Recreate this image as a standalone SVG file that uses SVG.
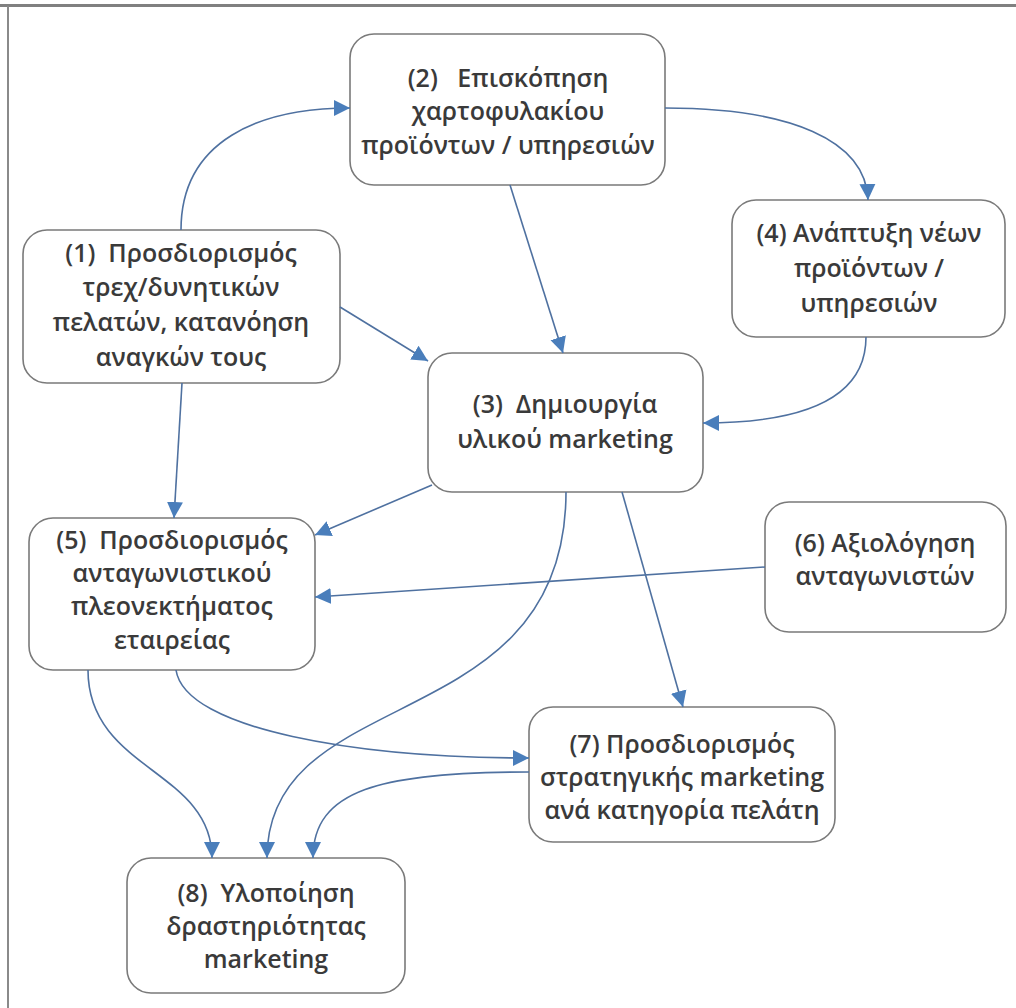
<svg xmlns="http://www.w3.org/2000/svg" width="1016" height="1008" viewBox="0 0 1016 1008">
  <style>
    .box { fill: #ffffff; stroke: #7a7a7a; stroke-width: 1.6; }
    .lbl { font-family: "Open Sans", "Noto Sans", "DejaVu Sans", sans-serif; font-weight: 600; font-size: 25px; fill: #3a3a3a; text-anchor: middle; white-space: pre; }
    .edge { fill: none; stroke: #4f71a0; stroke-width: 1.6; marker-end: url(#arrow); }
  </style>
  <defs>
    <marker id="arrow" markerUnits="userSpaceOnUse" markerWidth="18" markerHeight="18" viewBox="0 0 18 18" refX="16" refY="9" orient="auto">
      <path d="M0,1 L16,9 L0,17 Z" fill="#4a7ebb"/>
    </marker>
  </defs>

  <!-- page frame -->
  <rect x="0" y="4" width="1016" height="3" fill="#808080"/>
  <rect x="7" y="6" width="2" height="1002" fill="#8a8a8a"/>

  <!-- nodes -->
  <g id="node1">
    <rect class="box" x="23" y="230" width="317" height="153" rx="24"/>
    <text class="lbl" xml:space="preserve"><tspan x="181" y="262">(1)  Προσδιορισμός</tspan><tspan x="181" y="296">τρεχ/δυνητικών</tspan><tspan x="181" y="331">πελατών, κατανόηση</tspan><tspan x="181" y="366">αναγκών τους</tspan></text>
  </g>
  <g id="node2">
    <rect class="box" x="350" y="34" width="315" height="151" rx="24"/>
    <text class="lbl" xml:space="preserve"><tspan x="508" y="87">(2)   Επισκόπηση</tspan><tspan x="508" y="120">χαρτοφυλακίου</tspan><tspan x="508" y="154">προϊόντων / υπηρεσιών</tspan></text>
  </g>
  <g id="node3">
    <rect class="box" x="428" y="353" width="275" height="139" rx="24"/>
    <text class="lbl" xml:space="preserve"><tspan x="565" y="413">(3)  Δημιουργία</tspan><tspan x="565" y="448">υλικού marketing</tspan></text>
  </g>
  <g id="node4">
    <rect class="box" x="732" y="200" width="273" height="137" rx="24"/>
    <text class="lbl" xml:space="preserve"><tspan x="869" y="242">(4) Ανάπτυξη νέων</tspan><tspan x="869" y="277">προϊόντων /</tspan><tspan x="869" y="312">υπηρεσιών</tspan></text>
  </g>
  <g id="node5">
    <rect class="box" x="29" y="518" width="286" height="152" rx="24"/>
    <text class="lbl" xml:space="preserve"><tspan x="172" y="549">(5)  Προσδιορισμός</tspan><tspan x="172" y="582">ανταγωνιστικού</tspan><tspan x="172" y="615">πλεονεκτήματος</tspan><tspan x="172" y="649">εταιρείας</tspan></text>
  </g>
  <g id="node6">
    <rect class="box" x="765" y="502" width="241" height="130" rx="24"/>
    <text class="lbl" xml:space="preserve"><tspan x="885" y="552">(6) Αξιολόγηση</tspan><tspan x="885" y="585">ανταγωνιστών</tspan></text>
  </g>
  <g id="node7">
    <rect class="box" x="529" y="707" width="306" height="135" rx="24"/>
    <text class="lbl" xml:space="preserve"><tspan x="682" y="753">(7) Προσδιορισμός</tspan><tspan x="682" y="786">στρατηγικής marketing</tspan><tspan x="682" y="819">ανά κατηγορία πελάτη</tspan></text>
  </g>
  <g id="node8">
    <rect class="box" x="127" y="858" width="278" height="135" rx="24"/>
    <text class="lbl" xml:space="preserve"><tspan x="266" y="902">(8)  Υλοποίηση</tspan><tspan x="266" y="935">δραστηριότητας</tspan><tspan x="266" y="968">marketing</tspan></text>
  </g>

  <!-- connectors -->
  <g id="connectors">
    <path class="edge" d="M181,230 C181,140 260,108 350,108"/>
    <path class="edge" d="M665,108 C790,108 866,140 868,200"/>
    <path class="edge" d="M510,185 L563,353"/>
    <path class="edge" d="M340,307 L428,361"/>
    <path class="edge" d="M866,337 C866,400 800,423 703,423"/>
    <path class="edge" d="M182,383 L174,518"/>
    <path class="edge" d="M432,485 L315,535"/>
    <path class="edge" d="M765,567 L315,597"/>
    <path class="edge" d="M622,492 L683,707"/>
    <path class="edge" d="M566,492 C566,740 267,680 267,858"/>
    <path class="edge" d="M88,670 C88,770 212,770 212,858"/>
    <path class="edge" d="M176,670 C185,730 360,758 529,758"/>
    <path class="edge" d="M529,772 C380,772 313,790 313,858"/>
  </g>
</svg>
